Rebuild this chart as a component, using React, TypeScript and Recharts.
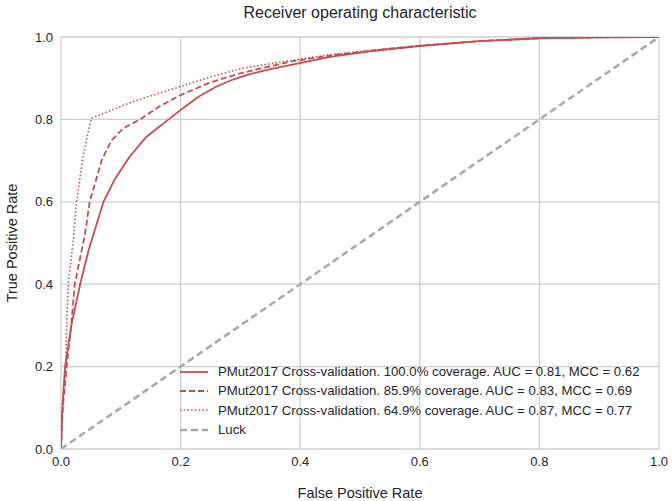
import React from 'react';
import { LineChart, Line, XAxis, YAxis, CartesianGrid } from 'recharts';

const fprFull = [0, 0.002, 0.0067, 0.018, 0.032, 0.046, 0.071, 0.09, 0.115, 0.143, 0.18, 0.2, 0.23, 0.26, 0.29, 0.316, 0.35, 0.383, 0.45, 0.52, 0.6, 0.7, 0.8, 0.9, 1.0];
const tprFull = [0, 0.09, 0.2, 0.305, 0.4, 0.482, 0.6, 0.655, 0.71, 0.758, 0.8, 0.823, 0.855, 0.88, 0.898, 0.91, 0.922, 0.932, 0.952, 0.966, 0.978, 0.99, 0.997, 0.999, 1.0];

const fpr859 = [0, 0.003, 0.0095, 0.017, 0.023, 0.04, 0.048, 0.06, 0.068, 0.076, 0.085, 0.104, 0.132, 0.165, 0.2, 0.25, 0.3, 0.383, 0.45, 0.52, 0.6, 0.7, 0.8, 0.9, 1.0];
const tpr859 = [0, 0.1, 0.2, 0.3, 0.4, 0.52, 0.6, 0.66, 0.7, 0.725, 0.75, 0.778, 0.8, 0.832, 0.859, 0.89, 0.912, 0.94, 0.955, 0.967, 0.979, 0.99, 0.997, 0.999, 1.0];

const fpr649 = [0, 0.003, 0.008, 0.0095, 0.012, 0.02, 0.026, 0.037, 0.044, 0.051, 0.12, 0.2, 0.25, 0.3, 0.383, 0.45, 0.52, 0.6, 0.7, 0.8, 0.9, 1.0];
const tpr649 = [0, 0.12, 0.2, 0.3, 0.4, 0.5, 0.6, 0.71, 0.76, 0.803, 0.843, 0.88, 0.903, 0.923, 0.943, 0.957, 0.968, 0.979, 0.99, 0.997, 0.999, 1.0];

const fprLuck = [0, 1];
const tprLuck = [0, 1];

const ticks = [0, 0.2, 0.4, 0.6, 0.8, 1.0];

const seriesNames = [
  'PMut2017 Cross-validation. 100.0% coverage. AUC = 0.81, MCC = 0.62',
  'PMut2017 Cross-validation. 85.9% coverage. AUC = 0.83, MCC = 0.69',
  'PMut2017 Cross-validation. 64.9% coverage. AUC = 0.87, MCC = 0.77',
  'Luck',
];

const RED = '#c44e52';
const GRAY = '#ababab';
const FONT = '"Liberation Sans", Arial, sans-serif';
const TEXT = '#262626';

const zip = (xs: number[], ys: number[]) => xs.map((x, i) => ({ x, y: ys[i] }));

const styles = [
  { stroke: RED, width: 1.8, dash: undefined as string | undefined },
  { stroke: RED, width: 1.8, dash: '6 3' },
  { stroke: RED, width: 1.6, dash: '1.5 2.2' },
  { stroke: GRAY, width: 2.6, dash: '7 4' },
];

const datasets = [zip(fprFull, tprFull), zip(fpr859, tpr859), zip(fpr649, tpr649), zip(fprLuck, tprLuck)];

const LegendBox = () => (
  <div style={{ position: 'absolute', left: 180, top: 362, fontFamily: FONT, fontSize: 13.2, color: TEXT, lineHeight: 1 }}>
    {seriesNames.map((name, i) => (
      <div key={i} style={{ display: 'flex', alignItems: 'center', height: 19.4, whiteSpace: 'nowrap' }}>
        <svg width={28} height={10} style={{ marginRight: 10, display: 'block' }}>
          <line x1={0} y1={5} x2={28} y2={5} stroke={styles[i].stroke} strokeWidth={styles[i].width} strokeDasharray={styles[i].dash} />
        </svg>
        <span>{name}</span>
      </div>
    ))}
  </div>
);

const YLabel = (props: any) => {
  const vb = props.viewBox;
  const cx = 12;
  const cy = vb.y + vb.height / 2;
  return (
    <text x={cx} y={cy} transform={`rotate(-90 ${cx} ${cy})`} textAnchor="middle" dominantBaseline="central" fontFamily={FONT} fontSize={14.5} fill={TEXT}>
      True Positive Rate
    </text>
  );
};

const XLabel = (props: any) => {
  const vb = props.viewBox;
  const cx = vb.x + vb.width / 2;
  return (
    <text x={cx} y={493} textAnchor="middle" dominantBaseline="central" fontFamily={FONT} fontSize={14.5} fill={TEXT}>
      False Positive Rate
    </text>
  );
};

export default function App() {
  return (
    <div style={{ position: 'absolute', left: 0, top: 0, width: 672, height: 501, background: '#fff' }}>
      <LineChart width={672} height={501} margin={{ top: 37, right: 13, bottom: 0, left: 0 }}>
        <CartesianGrid stroke="#cfcfcf" strokeWidth={1.3} />
        <XAxis
          type="number"
          dataKey="x"
          domain={[0, 1]}
          ticks={ticks}
          tickFormatter={(v: number) => v.toFixed(1)}
          axisLine={false}
          tickLine={false}
          height={52}
          tick={{ fontFamily: FONT, fontSize: 13, fill: TEXT }}
          label={<XLabel />}
          allowDataOverflow
        />
        <YAxis
          type="number"
          dataKey="y"
          domain={[0, 1]}
          ticks={ticks}
          tickFormatter={(v: number) => v.toFixed(1)}
          axisLine={false}
          tickLine={false}
          width={61}
          tick={{ fontFamily: FONT, fontSize: 13, fill: TEXT }}
          label={<YLabel />}
          allowDataOverflow
        />
        {datasets.map((d, i) => (
          <Line
            key={i}
            data={d}
            dataKey="y"
            type="linear"
            name={seriesNames[i]}
            stroke={styles[i].stroke}
            strokeWidth={styles[i].width}
            strokeDasharray={styles[i].dash}
            dot={false}
            activeDot={false}
            isAnimationActive={false}
          />
        ))}
      </LineChart>
      <div style={{ position: 'absolute', left: 61, width: 598, top: 4, textAlign: 'center', fontFamily: FONT, fontSize: 16, color: TEXT }}>
        Receiver operating characteristic
      </div>
      <LegendBox />
    </div>
  );
}
